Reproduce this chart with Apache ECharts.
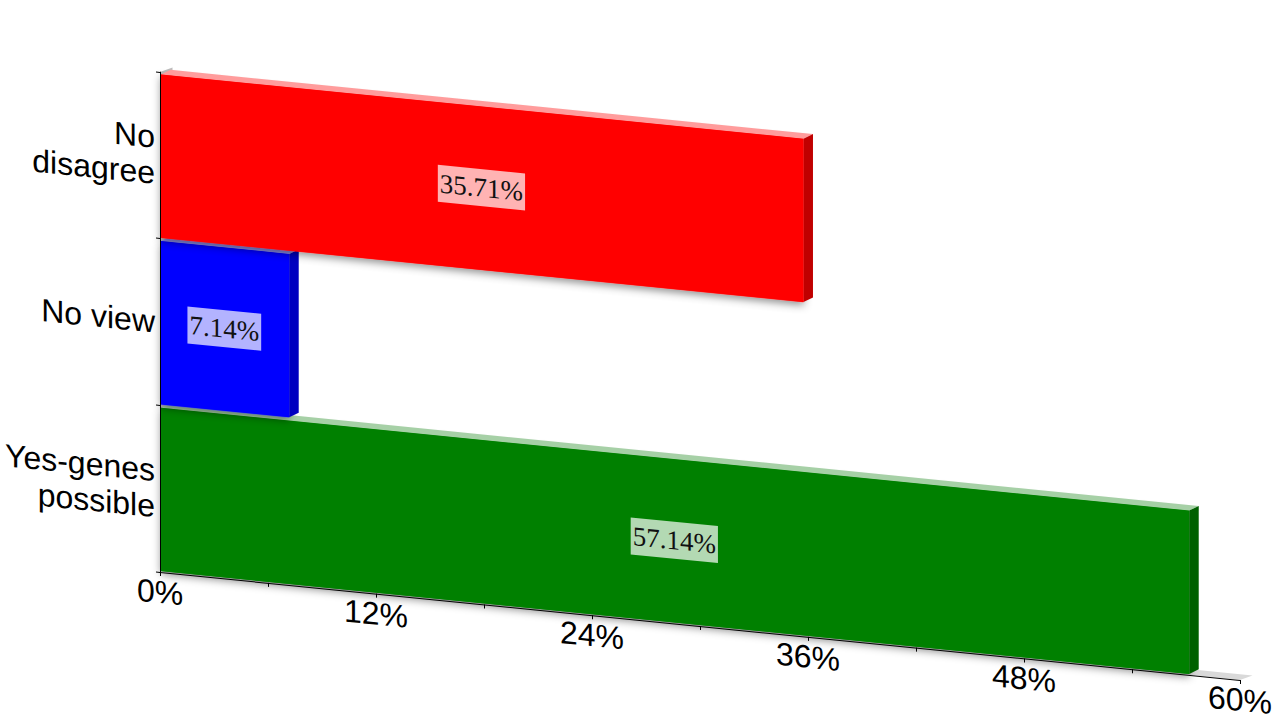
<!DOCTYPE html>
<html>
<head>
<meta charset="utf-8">
<style>
html,body{margin:0;padding:0;background:#fff;overflow:hidden;width:1280px;height:720px}
#chart{width:1280px;height:720px;transform-origin:160px 572px;transform:matrix(1,0.1,0,1,0,0)}
</style>
<script src="https://cdn.jsdelivr.net/npm/echarts@6/dist/echarts.min.js"></script>
</head>
<body>
<div id="chart"></div>
<script>
var categories = ['Yes-genes possible', 'No view', 'No disagree'];
var values = [57.14, 7.14, 35.71];
var faceColors = ['#008000', '#0000ff', '#ff0000'];
var sideColors = ['#006000', '#0000c0', '#c00000'];
var topColors = ['#a6d0a6', '#8c8ce6', '#ff9c9c'];
var xTickStep = 12;
var xMax = 60;

var FONT = '"Liberation Sans", Arial, sans-serif';
var DX = 9.5, DY = -5.5;

function barItem(params, api) {
  var v = api.value(0), c = api.value(1);
  var i = params.dataIndex;
  var band = api.size([0, 1])[1];
  var p0 = api.coord([0, c]);
  var p1 = api.coord([v, c]);
  var left = p0[0] + 1, right = p1[0] + 0.7;
  var top = p0[1] - band / 2 + 2.3;
  var bottom = p0[1] + band / 2 - 1;
  return {
    type: 'group',
    children: [
      { type: 'rect', shape: { x: left, y: top, width: right - left, height: bottom - top },
        style: { fill: faceColors[i], shadowBlur: 8, shadowOffsetY: 3, shadowColor: 'rgba(0,0,0,0.45)' } },
      { type: 'polygon', shape: { points: [[left, top], [right, top], [right + DX, top + DY], [left + DX, top + DY]] },
        style: { fill: topColors[i] } },
      { type: 'polygon', shape: { points: [[right, top], [right + DX, top + DY], [right + DX, bottom + DY], [right, bottom]] },
        style: { fill: sideColors[i] } },
      { type: 'rect', shape: { x: left, y: top, width: right - left, height: bottom - top },
        style: { fill: faceColors[i] } },
      { type: 'text', z2: 10, style: {
          text: v.toFixed(2) + '%', x: (left + right) / 2 - 0.8, y: (top + bottom) / 2 - 0.5,
          align: 'center', verticalAlign: 'middle',
          font: '27px "Liberation Serif", "Times New Roman", serif', fill: '#111',
          backgroundColor: 'rgba(255,255,255,0.7)', padding: [3, 2, 3, 2], lineHeight: 31 } }
    ]
  };
}

function wallItem(params, api) {
  var o = api.coord([0, 0]), band = api.size([0, 1])[1];
  var e = api.coord([api.value(0), 0]);
  var floorY = o[1] + band / 2;
  var topY = floorY - band * categories.length;
  var wx = 12.5, wy = -5.8;
  return {
    type: 'group',
    children: [
      { type: 'polygon', shape: { points: [[o[0], floorY], [e[0], floorY], [e[0] + wx, floorY + wy], [o[0] + wx, floorY + wy]] },
        style: { fill: '#d9d9d9' } },
      { type: 'polygon', shape: { points: [[o[0], floorY], [o[0], topY], [o[0] + wx, topY + wy], [o[0] + wx, floorY + wy]] },
        style: { fill: '#bdbdbd' } }
    ]
  };
}

var chart = echarts.init(document.getElementById('chart'), null, { renderer: 'svg', width: 1280, height: 720 });
chart.setOption({
  animation: false,
  backgroundColor: 'transparent',
  grid: { left: 160, top: 72, width: 1080, height: 500, containLabel: false, outerBoundsMode: 'none' },
  xAxis: {
    type: 'value', min: 0, max: xMax, interval: xTickStep, z: 5,
    axisLine: { show: true, lineStyle: { color: '#000', width: 1 } },
    axisTick: { show: true, length: 4, lineStyle: { color: '#000' } },
    minorTick: { show: true, splitNumber: 2, length: 4, lineStyle: { color: '#000' } },
    splitLine: { show: false },
    axisLabel: { show: true, color: '#000', fontFamily: FONT, fontSize: 32, margin: 4, formatter: '{value}%', hideOverlap: false, showMinLabel: true, showMaxLabel: true }
  },
  yAxis: {
    type: 'category', data: categories, z: 5,
    axisLine: { show: true, lineStyle: { color: '#000', width: 1 } },
    axisTick: { show: true, length: 4, alignWithLabel: false, lineStyle: { color: '#000' } },
    splitLine: { show: false },
    axisLabel: { show: true, color: '#000', fontFamily: FONT, fontSize: 32, lineHeight: 36, margin: 5, align: 'right', interval: 0, hideOverlap: false,
      formatter: function (name) { return name.length > 8 ? name.replace(' ', '\n') : name; } }
  },
  series: [
    { type: 'custom', coordinateSystem: 'cartesian2d', silent: true, z: 1, clip: false,
      renderItem: wallItem, data: [[xMax, 0]], encode: { x: 0, y: 1 } },
    { type: 'custom', coordinateSystem: 'cartesian2d', silent: true, z: 2, clip: false,
      renderItem: barItem,
      data: values.map(function (v, i) { return [v, i]; }), encode: { x: 0, y: 1 } }
  ]
});
</script>
</body>
</html>
